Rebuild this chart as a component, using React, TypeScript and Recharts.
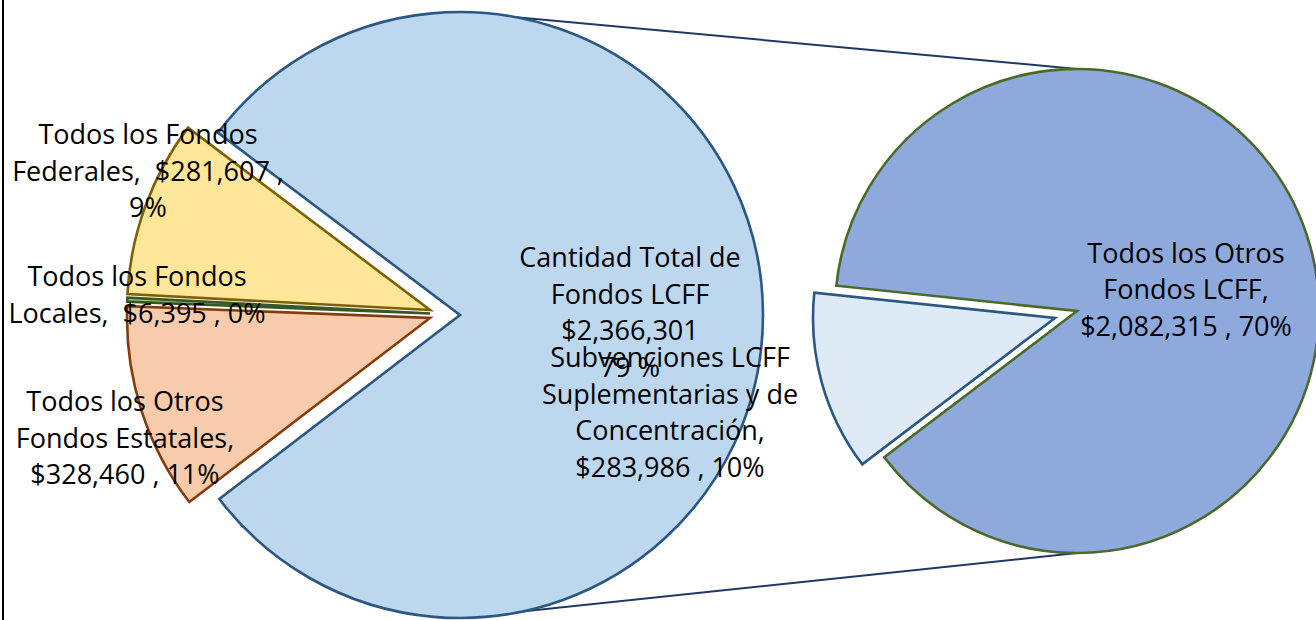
import { Cell, Pie, PieChart } from "recharts";

const leftNames = [
  "Todos los Fondos Federales",
  "Todos los Fondos Locales",
  "Todos los Otros Fondos Estatales",
  "Cantidad Total de Fondos LCFF",
];
const leftValues = [281607, 6395, 328460, 2366301];

const rightNames = [
  "Subvenciones LCFF Suplementarias y de Concentración",
  "Todos los Otros Fondos LCFF",
];
const rightValues = [283986, 2082315];

const total = leftValues.reduce((a, b) => a + b, 0);
const money = (v: number) => "$" + v.toLocaleString("en-US");
const pct = (v: number) => Math.round((v / total) * 100);

// data labels wrapped the way Excel wrapped them
const leftLabels = [
  ["Todos los Fondos", `Federales,  ${money(leftValues[0])} ,`, `${pct(leftValues[0])}%`],
  ["Todos los Fondos", `Locales,  ${money(leftValues[1])} , ${pct(leftValues[1])}%`],
  ["Todos los Otros", "Fondos Estatales,", `${money(leftValues[2])} , ${pct(leftValues[2])}%`],
  ["Cantidad Total de", "Fondos LCFF", money(leftValues[3]), `${pct(leftValues[3])} %`],
];
const rightLabels = [
  ["Subvenciones LCFF", "Suplementarias y de", "Concentración,", `${money(rightValues[0])} , ${pct(rightValues[0])}%`],
  ["Todos los Otros", "Fondos LCFF,", `${money(rightValues[1])} , ${pct(rightValues[1])}%`],
];

const leftData = leftNames.map((name, i) => ({ name, value: leftValues[i] }));
const rightData = rightNames.map((name, i) => ({ name, value: rightValues[i] }));

// layout
const W = 1316;
const H = 620;
const LEFT = { cx: 460, cy: 315, r: 303 };
// each small slice is pulled out a bit on its own
const LEFT_OUT = [
  { cx: 430, cy: 310 },
  { cx: 430, cy: 313.5 },
  { cx: 430, cy: 318 },
];
const RIGHT = { cx: 1077, cy: 311, r: 242 };
const RIGHT_OUT = { cx: 1055, cy: 318 }; // exploded slice
const LEFT_START = 143;
const RIGHT_START = 174;
const LINE_H = 36.5;
const FONT = "'Open Sans', sans-serif";
const SW = 2.6;

// label block centre, relative to its pie centre
const leftLabelPos = [
  [-282, -142],
  [-293, -18],
  [-305, 125],
  [170, -2],
];
const rightLabelPos = [
  [-385, 95],
  [109, -21],
];

const leftFill = ["#FFE699", "#A9D18E", "#F8CBAD", "#BDD7EE"];
const leftStroke = ["#7F6000", "#385723", "#843C0C", "#2A5783"];
const rightFill = ["#DEEBF7", "#8EA9DB"];
const rightStroke = ["#2A5783", "#4B6A2A"];

const renderLabel =
  (lines: string[][], pos: number[][], show: number[], cx: number, cy: number) =>
  (props: any) => {
    const index = props.index;
    if (!show.includes(index)) return null;
    const x = cx + pos[index][0];
    const ls = lines[index];
    const first = cy + pos[index][1] + 9 - ((ls.length - 1) * LINE_H) / 2;
    return (
      <text
        key={`lbl-${index}`}
        x={x}
        y={first}
        textAnchor="middle"
        fill="#000"
        fontSize={27}
        fontFamily={FONT}
        style={{ whiteSpace: "pre" }}
      >
        {ls.map((l, i) => (
          <tspan key={i} x={x} y={first + i * LINE_H}>
            {l}
          </tspan>
        ))}
      </text>
    );
  };

export default function App() {
  return (
    <div style={{ position: "absolute", left: 0, top: 0, width: W, height: H, background: "#fff" }}>
      <svg width={W} height={H} style={{ position: "absolute", left: 0, top: 0 }}>
        <line x1={3} y1={0} x2={3} y2={H} stroke="#000" strokeWidth={2} />
        <line
          x1={LEFT.cx}
          y1={LEFT.cy - LEFT.r}
          x2={RIGHT.cx}
          y2={RIGHT.cy - RIGHT.r}
          stroke="#1F3864"
          strokeWidth={2}
        />
        <line
          x1={LEFT.cx}
          y1={LEFT.cy + LEFT.r}
          x2={RIGHT.cx}
          y2={RIGHT.cy + RIGHT.r}
          stroke="#1F3864"
          strokeWidth={2}
        />
      </svg>
      <div style={{ position: "absolute", left: 0, top: 0 }}>
        <PieChart width={W} height={H} margin={{ top: 0, right: 0, bottom: 0, left: 0 }}>
          <Pie
            data={leftData}
            dataKey="value"
            nameKey="name"
            cx={LEFT.cx}
            cy={LEFT.cy}
            outerRadius={LEFT.r}
            startAngle={LEFT_START}
            endAngle={LEFT_START + 360}
            isAnimationActive={false}
            labelLine={false}
            label={renderLabel(leftLabels, leftLabelPos, [3], LEFT.cx, LEFT.cy)}
          >
            {leftData.map((d, i) => (
              <Cell
                key={d.name}
                fill={i === 3 ? leftFill[i] : "none"}
                stroke={i === 3 ? leftStroke[i] : "none"}
                strokeWidth={SW}
              />
            ))}
          </Pie>
          {LEFT_OUT.map((c, k) => (
            <Pie
              key={`out-${k}`}
              data={leftData}
              dataKey="value"
              nameKey="name"
              cx={c.cx}
              cy={c.cy}
              outerRadius={LEFT.r}
              startAngle={LEFT_START}
              endAngle={LEFT_START + 360}
              isAnimationActive={false}
              labelLine={false}
              label={renderLabel(leftLabels, leftLabelPos, [k], LEFT_OUT[1].cx, LEFT_OUT[1].cy)}
            >
              {leftData.map((d, i) => (
                <Cell
                  key={d.name}
                  fill={i === k ? leftFill[i] : "none"}
                  stroke={i === k ? leftStroke[i] : "none"}
                  strokeWidth={SW}
                />
              ))}
            </Pie>
          ))}
          <Pie
            data={rightData}
            dataKey="value"
            nameKey="name"
            cx={RIGHT.cx}
            cy={RIGHT.cy}
            outerRadius={RIGHT.r}
            startAngle={RIGHT_START}
            endAngle={RIGHT_START + 360}
            isAnimationActive={false}
            labelLine={false}
            label={renderLabel(rightLabels, rightLabelPos, [1], RIGHT.cx, RIGHT.cy)}
          >
            {rightData.map((d, i) => (
              <Cell
                key={d.name}
                fill={i === 1 ? rightFill[i] : "none"}
                stroke={i === 1 ? rightStroke[i] : "none"}
                strokeWidth={SW}
              />
            ))}
          </Pie>
          <Pie
            data={rightData}
            dataKey="value"
            nameKey="name"
            cx={RIGHT_OUT.cx}
            cy={RIGHT_OUT.cy}
            outerRadius={RIGHT.r}
            startAngle={RIGHT_START}
            endAngle={RIGHT_START + 360}
            isAnimationActive={false}
            labelLine={false}
            label={renderLabel(rightLabels, rightLabelPos, [0], RIGHT_OUT.cx, RIGHT_OUT.cy)}
          >
            {rightData.map((d, i) => (
              <Cell
                key={d.name}
                fill={i === 0 ? rightFill[i] : "none"}
                stroke={i === 0 ? rightStroke[i] : "none"}
                strokeWidth={SW}
              />
            ))}
          </Pie>
        </PieChart>
      </div>
    </div>
  );
}
